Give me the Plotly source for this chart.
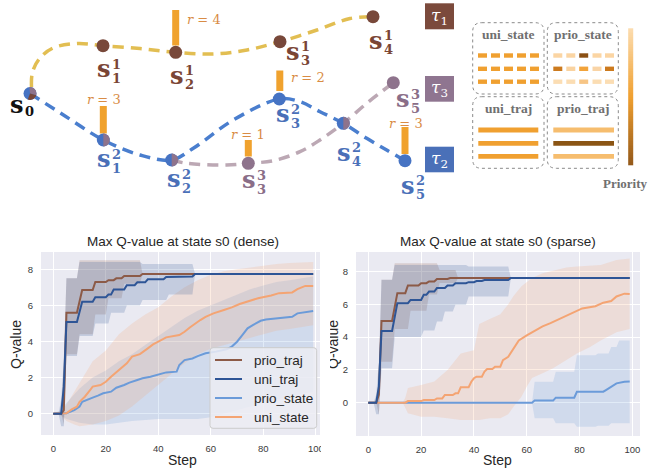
import numpy as np
import plotly.graph_objects as go

W, H = 650, 470

# ======================= chart data (dense reward) =======================
dense_pt_x = [0, 3, 4, 5, 9, 11, 15, 16, 20, 21, 23, 24, 26, 27, 33, 34, 99]
dense_pt_y = [0, 0, 0.2, 5.6, 5.6, 6.85, 6.85, 7.3, 7.3, 7.4, 7.4, 7.5, 7.5, 7.63, 7.63, 7.74, 7.74]
dense_ut_x = [0, 3, 4, 5, 9, 11, 15, 16, 20, 21, 22, 23, 27, 28, 31, 32, 35, 36, 42, 43, 53, 54, 99]
dense_ut_y = [0, 0, 1.5, 5.08, 5.08, 6.2, 6.2, 6.45, 6.45, 6.6, 6.6, 6.88, 6.88, 7.12, 7.12, 7.28, 7.28,
              7.45, 7.45, 7.58, 7.6, 7.74, 7.74]
dense_us_x = [0, 5, 7, 9, 10, 12, 14, 15, 18, 20, 22, 25, 28, 30, 33, 36, 38, 40, 43, 48, 50, 52, 54, 56,
              58, 61, 65, 68, 71, 75, 78, 83, 86, 91, 93, 96, 99]
dense_us_y = [0, 0.02, 0.24, 0.39, 0.66, 0.94, 1.3, 1.5, 1.59, 1.77, 2.05, 2.42, 2.79, 3.16, 3.3, 3.62,
              3.84, 4.0, 4.23, 4.36, 4.54, 4.78, 5.0, 5.19, 5.37, 5.56, 5.75, 5.89, 6.08, 6.27, 6.4, 6.55,
              6.68, 6.72, 6.9, 7.08, 7.08]
dense_ps_x = [0, 5, 8, 10, 11, 13, 15, 17, 19, 22, 24, 27, 29, 32, 34, 37, 40, 43, 47, 48, 50, 53, 55,
              58, 62, 66, 68, 70, 72, 74, 76, 79, 81, 86, 91, 93, 96, 99]
dense_ps_y = [0, 0.02, 0.2, 0.39, 0.66, 0.79, 0.89, 1.0, 1.13, 1.22, 1.44, 1.59, 1.72, 1.87, 1.96, 2.05,
              2.18, 2.29, 2.33, 2.7, 2.97, 3.06, 3.19, 3.35, 3.44, 3.57, 3.72, 3.99, 4.36, 4.73, 4.91,
              5.15, 5.22, 5.28, 5.37, 5.56, 5.63, 5.69]

dense_pt_band_x = [0, 3, 4, 5, 9, 10, 15, 16, 20, 21, 26, 27, 33, 34, 99]
dense_pt_band_lo = [0, 0, -0.6, 3.3, 3.3, 4.4, 4.4, 5.5, 5.5, 6.4, 6.4, 7.2, 7.2, 7.74, 7.74]
dense_pt_band_hi = [0, 0, 3.0, 7.5, 7.5, 8.5, 8.5, 8.5, 8.5, 8.5, 8.5, 8.5, 8.5, 7.74, 7.74]
dense_ut_band_x = [0, 2, 3, 4, 5, 9, 10, 15, 16, 21, 22, 27, 28, 33, 34, 43, 44, 53, 54, 99]
dense_ut_band_lo = [0, 0, -0.7, -0.7, 3.2, 3.2, 4.3, 4.3, 5.0, 5.0, 5.6, 5.6, 6.0, 6.0, 6.3, 6.3, 6.6,
                    6.6, 7.74, 7.74]
dense_ut_band_hi = [0, 0, 0.8, 3.0, 7.5, 7.5, 8.4, 8.4, 8.4, 8.4, 8.4, 8.4, 8.4, 8.4, 8.3, 8.3, 8.3,
                    8.3, 7.74, 7.74]
dense_us_band_x = [0, 3, 5, 8, 10, 15, 20, 25, 30, 35, 40, 45, 50, 55, 60, 65, 70, 75, 80, 85, 90, 95, 99]
dense_us_band_lo = [0, -0.1, -0.4, -0.6, -0.7, -0.6, -0.4, -0.1, 0.4, 1.0, 1.6, 2.2, 2.8, 3.3, 3.6,
                    3.8, 4.0, 4.2, 4.4, 4.6, 4.7, 4.8, 4.9]
dense_us_band_hi = [0, 0.1, 0.5, 1.2, 1.7, 2.9, 3.5, 4.4, 5.0, 5.5, 5.9, 6.5, 7.0, 7.4, 7.7, 7.9, 8.0,
                    8.1, 8.2, 8.3, 8.35, 8.4, 8.4]
dense_ps_band_x = [0, 3, 5, 10, 15, 20, 25, 30, 35, 40, 45, 50, 55, 60, 65, 70, 75, 80, 85, 90, 95, 99]
dense_ps_band_lo = [0, -0.1, -0.3, -0.5, -0.6, -0.6, -0.5, -0.4, -0.35, -0.3, -0.3, -0.3, -0.3, -0.2,
                    0.0, 0.2, 0.4, 0.6, 0.8, 1.0, 1.1, 1.2]
dense_ps_band_hi = [0, 0.2, 0.6, 1.4, 2.0, 2.4, 2.9, 3.3, 3.8, 4.3, 4.8, 5.3, 5.7, 6.0, 6.3, 6.6, 6.9,
                    7.1, 7.3, 7.4, 7.5, 7.6]

# ======================= chart data (sparse reward) =======================
sparse_pt_x = [0, 3, 4, 5, 9, 11, 14, 15, 19, 20, 22, 23, 25, 26, 30, 31, 99]
sparse_pt_y = [0, 0, 0.5, 4.99, 4.99, 6.68, 6.68, 7.15, 7.15, 7.29, 7.29, 7.39, 7.39, 7.54, 7.54, 7.6, 7.6]
sparse_ut_x = [0, 3, 4, 5, 9, 11, 15, 16, 20, 21, 22, 23, 25, 26, 29, 30, 32, 33, 37, 38, 40, 41, 43,
               44, 53, 54, 99]
sparse_ut_y = [0, 0, 1.0, 4.38, 4.38, 6.07, 6.07, 6.27, 6.27, 6.58, 6.58, 6.78, 6.78, 6.99, 6.99, 7.15,
               7.15, 7.29, 7.29, 7.35, 7.35, 7.42, 7.42, 7.48, 7.48, 7.6, 7.6]
sparse_us_x = [0, 14, 15, 20, 21, 25, 26, 28, 29, 32, 33, 34, 35, 38, 39, 40, 41, 43, 44, 45, 47, 48,
               50, 51, 53, 55, 57, 60, 63, 66, 69, 71, 74, 77, 79, 81, 86, 89, 92, 94, 97, 99]
sparse_us_y = [0, 0, 0.1, 0.1, 0.16, 0.16, 0.26, 0.26, 0.47, 0.47, 0.57, 0.57, 0.94, 0.94, 1.28, 1.49,
               1.59, 1.59, 1.9, 2.06, 2.06, 2.2, 2.2, 2.6, 2.8, 3.3, 3.8, 4.1, 4.4, 4.65, 4.85, 5.0,
               5.25, 5.5, 5.6, 5.75, 5.88, 6.1, 6.2, 6.48, 6.65, 6.63]
sparse_ps_x = [0, 62, 63, 70, 71, 78, 79, 89, 90, 92, 94, 97, 99]
sparse_ps_y = [0, 0, 0.13, 0.13, 0.31, 0.31, 0.67, 0.67, 0.77, 0.97, 1.18, 1.28, 1.3]

sparse_pt_band_x = [0, 3, 4, 5, 9, 10, 15, 16, 22, 23, 26, 27, 33, 34, 99]
sparse_pt_band_lo = [0, 0, -0.7, 2.5, 2.5, 4.5, 4.5, 5.6, 5.6, 6.6, 6.6, 7.3, 7.3, 7.6, 7.6]
sparse_pt_band_hi = [0, 0, 1.5, 7.5, 7.5, 8.5, 8.5, 8.5, 8.5, 8.5, 8.5, 8.1, 8.1, 7.6, 7.6]
sparse_ut_band_x = [0, 2, 3, 4, 5, 9, 10, 20, 21, 25, 26, 28, 29, 32, 33, 37, 38, 53, 54, 99]
sparse_ut_band_lo = [0, 0, -0.7, -0.7, 2.1, 2.1, 4.0, 4.0, 4.4, 4.4, 4.95, 4.95, 5.56, 5.56, 5.97,
                     5.97, 6.48, 6.48, 7.6, 7.6]
sparse_ut_band_hi = [0, 0, 0.5, 2.5, 7.5, 7.5, 8.4, 8.4, 8.4, 8.4, 8.4, 8.4, 8.4, 8.4, 8.4, 8.4, 8.3,
                     8.3, 7.6, 7.6]
sparse_us_band_x = [0, 13, 14, 15, 20, 25, 30, 35, 40, 42, 46, 50, 53, 55, 58, 60, 62, 66, 70, 75, 79,
                    84, 88, 94, 99]
sparse_us_band_lo = [0, 0, -0.3, -0.65, -0.86, -0.86, -0.95, -1.06, -1.06, -1.06, -0.95, -0.95, -0.7,
                     -0.24, 0.37, 0.98, 1.5, 1.8, 2.1, 2.6, 3.0, 3.4, 3.8, 4.3, 4.5]
sparse_us_band_hi = [0, 0, 0.3, 0.9, 1.08, 1.3, 2.0, 3.0, 3.2, 4.8, 5.1, 5.4, 6.0, 6.5, 7.1, 7.35, 7.6,
                     7.9, 8.05, 8.25, 8.3, 8.35, 8.4, 8.7, 8.8]
sparse_ps_band_x = [0, 62, 63, 70, 71, 78, 79, 86, 87, 91, 92, 94, 95, 99]
sparse_ps_band_lo = [0, 0, -0.95, -0.95, -1.26, -1.26, -1.46, -1.46, -1.4, -1.4, -1.26, -1.26, -1.26, -1.26]
sparse_ps_band_hi = [0, 0, 1.28, 1.28, 1.89, 1.89, 2.9, 2.9, 3.0, 3.0, 3.4, 3.4, 3.8, 3.8]

x_ticks = [0, 20, 40, 60, 80, 100]
y_ticks = [0, 2, 4, 6, 8]
series_names = ["prio_traj", "uni_traj", "prio_state", "uni_state"]
titles = ["Max Q-value at state s0 (dense)", "Max Q-value at state s0 (sparse)"]

# ======================= diagram data =======================
s0_pos = [30.0, 93.5]
tau1_curve_x = [31.5, 32.5, 40, 53, 77, 103, 140, 175.7, 213, 247, 280, 317, 350, 373]
tau1_curve_y = [87, 72, 58, 48, 43.5, 45.7, 48.5, 52.3, 54, 50, 41.7, 30, 18.5, 16.7]
tau2_curve_x = [30, 65, 103.3, 140, 171.7, 193.3, 233.3, 279.3, 300, 320, 343.3, 366.7, 386.7, 405]
tau2_curve_y = [93.5, 116, 140, 155, 160, 148.3, 120, 99, 101.7, 111.7, 123.3, 138.3, 150, 160.7]
tau3_curve_x = [171.7, 186.7, 226.7, 248.3, 273.3, 300, 320, 343.3, 366.7, 393.3]
tau3_curve_y = [160, 163.3, 165, 163.3, 160.7, 151.7, 140, 123.3, 103.3, 82.7]

tau1_dots_x = [103, 175.7, 280, 373]
tau1_dots_y = [45.7, 52.3, 41.7, 16.7]
tau2_dots_x = [103.3, 171.7, 279.3, 343.3, 405]
tau2_dots_y = [140, 160, 99, 123.3, 160.7]
tau3_dots_x = [248.3, 393.3]
tau3_dots_y = [163.3, 82.7]
shared_dots_x = [103.3, 171.7, 343.3]
shared_dots_y = [140, 160, 123.3]

reward_vals = [4, 3, 2, 1, 3]
reward_bar_x = [175.7, 103.3, 279.8, 248.3, 405]
reward_bar_top = [10, 106, 70.5, 140, 127]
reward_bar_bot = [45.5, 133.5, 91, 156.5, 154]
reward_lab_x = [203.8, 104, 308.3, 248.3, 405.7]
reward_lab_y = [19, 99, 77.3, 134, 123]

node_lab_x = [17, 103.7, 176.7, 292.5, 375.7, 104, 174.2, 282.5, 344, 408, 249, 402.5]
node_lab_y = [107.5, 71.7, 78.3, 54, 43.3, 161.7, 181.7, 116.7, 155, 188, 182.5, 101.5]
node_sup = ["", "1", "1", "1", "1", "2", "2", "2", "2", "2", "3", "3"]
node_sub = ["0", "1", "2", "3", "4", "1", "2", "3", "4", "5", "3", "5"]
node_grp = [0, 1, 1, 1, 1, 2, 2, 2, 2, 2, 3, 3]

tau_names = ["1", "3", "2"]
tau_box_y0 = [3.3, 76, 146.7]
tau_box_y1 = [29.3, 101.7, 172.3]
tau_box_grp = [1, 3, 2]

panel_names = ["uni_state", "prio_state", "uni_traj", "prio_traj"]
panel_x0 = [472.7, 547.3, 472.7, 547.3]
panel_x1 = [544, 618.3, 544, 618.3]
panel_y0 = [22.7, 22.7, 96.7, 96.7]
panel_y1 = [94, 94, 168.3, 168.3]
state_cols_uni = [482.5, 495.5, 508.5, 521.5, 534.5]
state_cols_prio = [557.8, 570.8, 583.7, 597, 609.5]
state_rows = [55.5, 68.8, 81.7]
uni_state_colors = [["#F0A030"] * 5] * 3
prio_state_colors = [["#FBD5A3", "#FBD5A3", "#8B5014", "#FBD5A3", "#FBD5A3"],
                     ["#CC7A1E", "#FAD3A0", "#F2A33A", "#F9D4A6", "#CC7A1E"],
                     ["#FBDDB3", "#FBDDB3", "#F7C585", "#FBDDB3", "#FBDDB3"]]
traj_rows = [130, 143.3, 156.3]
uni_traj_colors = ["#F0A030", "#F0A030", "#F0A030"]
prio_traj_colors = ["#F6BD6E", "#8B5514", "#F6BD6E"]
priority_levels = list(np.linspace(0, 1, 80))

# legend layout (screen px)
legend_box = [210, 347.7, 316.7, 428.3]
legend_rows = [360, 379, 398, 417]

# ======================= styling =======================
C = {"prio_traj": "#8c5a47", "uni_traj": "#2e5596", "prio_state": "#6b9bd9", "uni_state": "#f4a473"}
BAND = {"prio_traj": "rgba(140,90,71,0.2)", "uni_traj": "rgba(46,85,150,0.2)",
        "prio_state": "rgba(107,155,217,0.2)", "uni_state": "rgba(244,164,115,0.2)"}
GRP_COL = {0: "#111111", 1: "#7A4535", 2: "#4A70B8", 3: "#8A6E88"}
DOT_COL = {1: "#78483A", 2: "#4673C3", 3: "#8E738C"}
CURVE_COL = {1: "#E2BE52", 2: "#4A7ECE", 3: "#BCA8B4"}
BOX_COL = {1: "#7B4A3C", 2: "#4A70B8", 3: "#8F7590"}
BAR_COL = "#F0A22E"
RLAB_COL = "#D98C45"
SANS = "Liberation Sans"
SERIF = "DejaVu Serif"
TXT = "#262626"

fig = go.Figure()

# ----------------------- charts -----------------------
charts = [
    dict(xa="x", ya="y",
         lines={"prio_traj": (dense_pt_x, dense_pt_y), "uni_traj": (dense_ut_x, dense_ut_y),
                "prio_state": (dense_ps_x, dense_ps_y), "uni_state": (dense_us_x, dense_us_y)},
         bands={"prio_traj": (dense_pt_band_x, dense_pt_band_lo, dense_pt_band_hi),
                "uni_traj": (dense_ut_band_x, dense_ut_band_lo, dense_ut_band_hi),
                "prio_state": (dense_ps_band_x, dense_ps_band_lo, dense_ps_band_hi),
                "uni_state": (dense_us_band_x, dense_us_band_lo, dense_us_band_hi)}),
    dict(xa="x2", ya="y2",
         lines={"prio_traj": (sparse_pt_x, sparse_pt_y), "uni_traj": (sparse_ut_x, sparse_ut_y),
                "prio_state": (sparse_ps_x, sparse_ps_y), "uni_state": (sparse_us_x, sparse_us_y)},
         bands={"prio_traj": (sparse_pt_band_x, sparse_pt_band_lo, sparse_pt_band_hi),
                "uni_traj": (sparse_ut_band_x, sparse_ut_band_lo, sparse_ut_band_hi),
                "prio_state": (sparse_ps_band_x, sparse_ps_band_lo, sparse_ps_band_hi),
                "uni_state": (sparse_us_band_x, sparse_us_band_lo, sparse_us_band_hi)}),
]
draw_order = ["prio_state", "uni_state", "prio_traj", "uni_traj"]
for ci, ch in enumerate(charts):
    for nm in draw_order:
        bx, lo, hi = ch["bands"][nm]
        fig.add_trace(go.Scatter(x=list(bx) + list(bx)[::-1], y=list(hi) + list(lo)[::-1],
                                 fill="toself", fillcolor=BAND[nm], line=dict(width=0), mode="lines",
                                 hoverinfo="skip", showlegend=False, xaxis=ch["xa"], yaxis=ch["ya"]))
    for nm in draw_order:
        lx, ly = ch["lines"][nm]
        fig.add_trace(go.Scatter(x=lx, y=ly, mode="lines", name=nm, showlegend=False,
                                 line=dict(color=C[nm], width=2), xaxis=ch["xa"], yaxis=ch["ya"]))

# ----------------------- diagram -----------------------
def dtrace(**kw):
    kw.setdefault("hoverinfo", "skip")
    kw.setdefault("showlegend", False)
    return go.Scatter(xaxis="x3", yaxis="y3", **kw)

dash = "11px,7px"
fig.add_trace(dtrace(x=tau3_curve_x, y=tau3_curve_y, mode="lines",
                     line=dict(color=CURVE_COL[3], width=3.5, dash=dash, shape="spline")))
fig.add_trace(dtrace(x=tau1_curve_x, y=tau1_curve_y, mode="lines",
                     line=dict(color=CURVE_COL[1], width=3.5, dash=dash, shape="spline")))
fig.add_trace(dtrace(x=tau2_curve_x, y=tau2_curve_y, mode="lines",
                     line=dict(color=CURVE_COL[2], width=3.5, dash=dash, shape="spline")))

for bx, bt, bb in zip(reward_bar_x, reward_bar_top, reward_bar_bot):
    fig.add_trace(dtrace(x=[bx, bx], y=[bb, bt], mode="lines", line=dict(color=BAR_COL, width=7)))

fig.add_trace(dtrace(x=tau1_dots_x, y=tau1_dots_y, mode="markers",
                     marker=dict(color=DOT_COL[1], size=13, line=dict(width=0))))
fig.add_trace(dtrace(x=tau2_dots_x + [s0_pos[0]], y=tau2_dots_y + [s0_pos[1]], mode="markers",
                     marker=dict(color=DOT_COL[2], size=13, line=dict(width=0))))
fig.add_trace(dtrace(x=tau3_dots_x, y=tau3_dots_y, mode="markers",
                     marker=dict(color=DOT_COL[3], size=13, line=dict(width=0))))


def sector(cx, cy, r, a0, a1):
    a = np.radians(np.linspace(a0, a1, 30))
    xs = [cx] + list(cx + r * np.cos(a)) + [cx]
    ys = [cy] + list(cy + r * np.sin(a)) + [cy]
    return xs, ys


R = 6.5
for sx, sy in zip(shared_dots_x, shared_dots_y):
    xs, ys = sector(sx, sy, R, -90, 90)
    fig.add_trace(dtrace(x=xs, y=ys, mode="lines", fill="toself", fillcolor=DOT_COL[3],
                         line=dict(width=0)))
xs, ys = sector(s0_pos[0], s0_pos[1], R, -95, 15)
fig.add_trace(dtrace(x=xs, y=ys, mode="lines", fill="toself", fillcolor=DOT_COL[3], line=dict(width=0)))
xs, ys = sector(s0_pos[0], s0_pos[1], R, 15, 110)
fig.add_trace(dtrace(x=xs, y=ys, mode="lines", fill="toself", fillcolor=DOT_COL[1], line=dict(width=0)))

# priority gradient bar
fig.add_trace(go.Heatmap(z=[[v] for v in priority_levels], x0=630.7, dx=5,
                         y0=28.3 + (136.7 / 80) / 2, dy=136.7 / 80,
                         colorscale=[[0, "#FCDCAE"], [0.5, "#F0A030"], [1, "#94591A"]],
                         showscale=False, hoverinfo="skip", xaxis="x3", yaxis="y3"))

shapes = []
annotations = []


def ann(**kw):
    kw.setdefault("showarrow", False)
    kw.setdefault("xanchor", "center")
    kw.setdefault("yanchor", "middle")
    annotations.append(kw)


def px(x):
    return x / W


def py(y):
    return 1 - y / H


def rrect(x0, y0, x1, y1, r, fx=lambda v: v, fy=lambda v: v):
    pts = [("M", x0 + r, y0), ("L", x1 - r, y0), ("Q", x1, y0, x1, y0 + r), ("L", x1, y1 - r),
           ("Q", x1, y1, x1 - r, y1), ("L", x0 + r, y1), ("Q", x0, y1, x0, y1 - r), ("L", x0, y0 + r),
           ("Q", x0, y0, x0 + r, y0)]
    out = []
    for p in pts:
        cmd, vals = p[0], p[1:]
        coords = []
        for i in range(0, len(vals), 2):
            coords.append(f"{fx(vals[i])},{fy(vals[i + 1])}")
        out.append(cmd + " " + " ".join(coords))
    return " ".join(out) + " Z"


# chart backgrounds
for xa, ya in [("x", "y"), ("x2", "y2")]:
    shapes.append(dict(type="rect", xref=f"{xa} domain", yref=f"{ya} domain", x0=0, x1=1, y0=0, y1=1,
                       fillcolor="#EAEAF2", line=dict(width=0), layer="below"))

# legend (left chart)
lx0, ly0, lx1, ly1 = legend_box
shapes.append(dict(type="path", xref="paper", yref="paper", layer="above",
                   path=rrect(lx0, ly0, lx1, ly1, 3, px, py),
                   fillcolor="rgba(236,236,243,0.85)", line=dict(color="#cccccc", width=1)))
for nm, ry in zip(series_names, legend_rows):
    shapes.append(dict(type="line", xref="paper", yref="paper", layer="above",
                       x0=px(lx0 + 5), x1=px(lx0 + 32), y0=py(ry), y1=py(ry),
                       line=dict(color=C[nm], width=2)))
    ann(xref="paper", yref="paper", x=px(lx0 + 41.5), y=py(ry), xanchor="left", text=nm,
        font=dict(family=SANS, size=13.5, color=TXT))

# tau boxes
for nm, y0, y1, g in zip(tau_names, tau_box_y0, tau_box_y1, tau_box_grp):
    shapes.append(dict(type="rect", xref="x3", yref="y3", x0=425, x1=454, y0=y0, y1=y1,
                       fillcolor=BOX_COL[g], line=dict(width=0)))
    ann(xref="x3", yref="y3", x=439.5, y=(y0 + y1) / 2, text=f"<i>τ</i><sub>{nm}</sub>",
        font=dict(family=SERIF, size=17, color="white"))

for nm, x0, x1, y0, y1 in zip(panel_names, panel_x0, panel_x1, panel_y0, panel_y1):
    shapes.append(dict(type="path", xref="x3", yref="y3", path=rrect(x0, y0, x1, y1, 9),
                       line=dict(color="#8a8a8a", width=1, dash="dot")))
    ann(xref="x3", yref="y3", x=(x0 + x1) / 2, y=y0 + 11.5, text=nm,
        font=dict(family="Liberation Serif", size=13.5, color="#707070", weight="bold"))

for cols, colors in [(state_cols_uni, uni_state_colors), (state_cols_prio, prio_state_colors)]:
    for ri, ry in enumerate(state_rows):
        for cj, cx in enumerate(cols):
            shapes.append(dict(type="rect", xref="x3", yref="y3", x0=cx - 4.5, x1=cx + 4.5,
                               y0=ry - 2.2, y1=ry + 2.2, fillcolor=colors[ri][cj], line=dict(width=0)))
for (xa0, xa1), colors in [((478.3, 538.3), uni_traj_colors), ((553.3, 614), prio_traj_colors)]:
    for ry, col in zip(traj_rows, colors):
        shapes.append(dict(type="rect", xref="x3", yref="y3", x0=xa0, x1=xa1, y0=ry - 2.4, y1=ry + 2.4,
                           fillcolor=col, line=dict(width=0)))

ann(xref="x3", yref="y3", x=625, y=183.3, text="Priority",
    font=dict(family="Liberation Serif", size=13, color="#707070", weight="bold"))

# reward labels
for v, lx, ly in zip(reward_vals, reward_lab_x, reward_lab_y):
    ann(xref="x3", yref="y3", x=lx, y=ly, text=f"<i>r</i> = {v}",
        font=dict(family=SERIF, size=13, color=RLAB_COL))

# node labels
for lx, ly, sp, sb, g in zip(node_lab_x, node_lab_y, node_sup, node_sub, node_grp):
    col = GRP_COL[g]
    ann(xref="x3", yref="y3", x=lx, y=ly, text="s", yshift=3,
        font=dict(family=SERIF, size=24, color=col, weight="bold"))
    if sp:
        ann(xref="x3", yref="y3", x=lx + 12.5, y=ly - 7.5, text=sp,
            font=dict(family=SERIF, size=13, color=col, weight="bold"))
        ann(xref="x3", yref="y3", x=lx + 12.5, y=ly + 6.5, text=sb,
            font=dict(family=SERIF, size=13, color=col, weight="bold"))
    else:
        ann(xref="x3", yref="y3", x=lx + 12, y=ly + 4, text=sb,
            font=dict(family=SERIF, size=13, color=col, weight="bold"))

# chart titles / axis titles
for t, cx in zip(titles, [182.5, 497.8]):
    ann(xref="paper", yref="paper", x=px(cx), y=py(242), text=t,
        font=dict(family=SANS, size=13.5, color=TXT))
    ann(xref="paper", yref="paper", x=px(cx), y=py(460), text="Step",
        font=dict(family=SANS, size=14, color=TXT))
ann(xref="paper", yref="paper", x=px(16), y=py(345), text="Q-value", textangle=-90,
    font=dict(family=SANS, size=14, color=TXT))
ann(xref="paper", yref="paper", x=px(333), y=py(345), text="Q-value", textangle=-90,
    font=dict(family=SANS, size=14, color=TXT))
# the left panel's image edge crops the neighbouring label and its own last tick label
ann(xref="paper", yref="paper", x=px(320.6), y=py(350), xanchor="left", text=" ", width=9.4, height=230,
    bgcolor="white", borderpad=0, borderwidth=0)

axis_common = dict(showgrid=True, gridcolor="white", gridwidth=1, zeroline=False, showline=False,
                   ticks="outside", ticklen=5, tickcolor="rgba(0,0,0,0)", automargin=False,
                   tickfont=dict(family=SANS, size=9.5, color="#3a3a3a"), fixedrange=True)

fig.update_layout(
    width=W, height=H, margin=dict(l=0, r=0, t=0, b=0, pad=0, autoexpand=False),
    paper_bgcolor="white", plot_bgcolor="rgba(0,0,0,0)", showlegend=False,
    font=dict(family=SANS, color=TXT),
    xaxis=dict(domain=[41 / W, 320 / W], range=[-4.69, 101.6], tickvals=x_ticks, anchor="y", **axis_common),
    yaxis=dict(domain=[1 - 435 / H, 1 - 252 / H], range=[-1.18, 8.96], tickvals=y_ticks, anchor="x",
               **axis_common),
    xaxis2=dict(domain=[356 / W, 640 / W], range=[-4.66, 102.9], tickvals=x_ticks, anchor="y2",
                **axis_common),
    yaxis2=dict(domain=[1 - 436 / H, 1 - 252 / H], range=[-2.03, 9.19], tickvals=y_ticks, anchor="x2",
                **axis_common),
    xaxis3=dict(domain=[0, 1], range=[0, W], visible=False, anchor="y3", fixedrange=True, automargin=False),
    yaxis3=dict(domain=[1 - 210 / H, 1], range=[210, 0], visible=False, anchor="x3", fixedrange=True,
                automargin=False),
    shapes=shapes, annotations=annotations,
)

fig.write_html("out.html", config={"displayModeBar": False},
               post_script="document.body.style.margin='0px';")
